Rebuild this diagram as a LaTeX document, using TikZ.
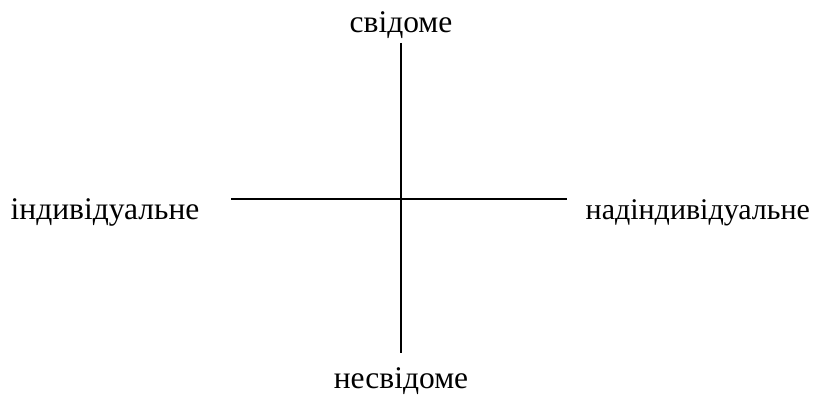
\documentclass[tikz,border=0pt]{standalone}
\usepackage{fontspec}
\setmainfont{Liberation Serif}
\usepackage{tikz}
\usetikzlibrary{positioning}

\begin{document}
\begin{tikzpicture}[
  x=1pt, y=1pt,
  pole/.style={font=\fontsize{31.5}{36}\selectfont, inner sep=0pt},
  widepole/.style={pole, font=\fontsize{30}{36}\selectfont},
  axis/.style={line width=1.4pt, draw=black}
]
\useasboundingbox (0,0) rectangle (816,394);
% axis ends
\coordinate (top) at (401,351);
\coordinate (bottom) at (401,41);
\coordinate (left) at (231,195);
\coordinate (right) at (567,195);

\node[pole, anchor=base] (conscious) at (401,361) {свідоме};
\node[pole, anchor=base] (unconscious) at (401,6) {несвідоме};
\node[pole, anchor=base west] (individual) at (10.5,175) {індивідуальне};
\node[widepole, anchor=base west] (supraindividual) at (585.5,175) {надіндивідуальне};

\draw[axis] (top) -- (bottom);
\draw[axis] (left) -- (right);
\end{tikzpicture}
\end{document}
